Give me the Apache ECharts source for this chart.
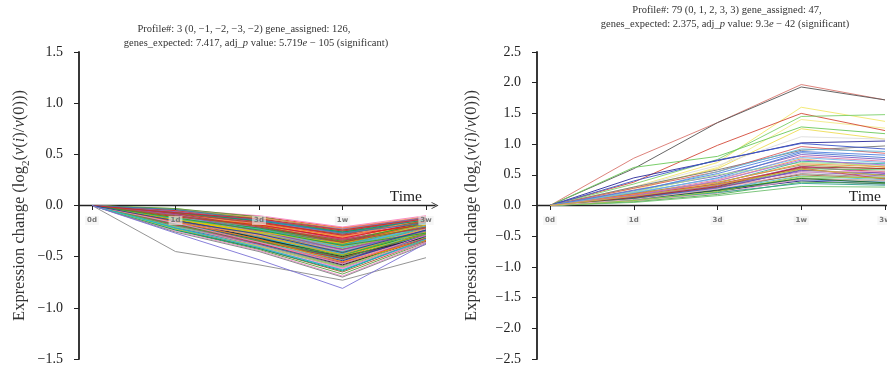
<!DOCTYPE html>
<html>
<head>
<meta charset="utf-8">
<script src="https://cdn.jsdelivr.net/npm/echarts@6/dist/echarts.min.js"></script>
<style>
  html, body { margin: 0; padding: 0; background: #fff; }
  #chart { width: 887px; height: 370px; }
</style>
</head>
<body>
<div id="chart"></div>
<script>
// Time points of the expression series
const timePoints = ['0d', '1d', '3d', '1w', '3w'];

// Model profiles
const leftProfile = [0, -1, -2, -3, -2];
const rightProfile = [0, 1, 2, 3, 3];

// Y axis tick values
const leftYTicks = [-1.5, -1.0, -0.5, 0.0, 0.5, 1.0, 1.5];
const rightYTicks = [-2.5, -2.0, -1.5, -1.0, -0.5, 0.0, 0.5, 1.0, 1.5, 2.0, 2.5];

// Profile 3: genes going down (log2 ratio at 0d, 1d, 3d, 1w, 3w)
const leftGenes = [
  [0,-0.04,-0.11,-0.22,-0.12],[0,-0.09,-0.19,-0.31,-0.17],[0,-0.13,-0.27,-0.44,-0.25],[0,-0.07,-0.16,-0.28,-0.14],
  [0,-0.18,-0.33,-0.52,-0.28],[0,-0.11,-0.22,-0.36,-0.20],[0,-0.05,-0.14,-0.25,-0.11],[0,-0.15,-0.30,-0.47,-0.26],
  [0,-0.21,-0.38,-0.58,-0.31],[0,-0.10,-0.24,-0.40,-0.23],[0,-0.08,-0.18,-0.30,-0.15],[0,-0.16,-0.29,-0.43,-0.22],
  [0,-0.12,-0.26,-0.41,-0.19],[0,-0.06,-0.15,-0.24,-0.13],[0,-0.19,-0.36,-0.55,-0.30],[0,-0.14,-0.28,-0.45,-0.27],
  [0,-0.03,-0.12,-0.23,-0.14],[0,-0.23,-0.41,-0.63,-0.34],[0,-0.10,-0.21,-0.33,-0.18],[0,-0.17,-0.32,-0.49,-0.24],
  [0,-0.08,-0.20,-0.35,-0.21],[0,-0.13,-0.25,-0.38,-0.16],[0,-0.20,-0.35,-0.51,-0.29],[0,-0.05,-0.13,-0.27,-0.15],
  [0,-0.11,-0.27,-0.46,-0.24],[0,-0.15,-0.31,-0.50,-0.32],[0,-0.09,-0.17,-0.29,-0.12],[0,-0.24,-0.43,-0.67,-0.36],
  [0,-0.12,-0.23,-0.37,-0.20],[0,-0.07,-0.19,-0.34,-0.19],[0,-0.18,-0.34,-0.53,-0.27],[0,-0.14,-0.26,-0.39,-0.23],
  [0,-0.06,-0.16,-0.26,-0.11],[0,-0.21,-0.37,-0.57,-0.33],[0,-0.10,-0.22,-0.39,-0.22],[0,-0.16,-0.28,-0.42,-0.25],
  [0,-0.04,-0.10,-0.21,-0.10],[0,-0.13,-0.29,-0.48,-0.28],[0,-0.19,-0.33,-0.50,-0.26],[0,-0.08,-0.21,-0.36,-0.17],
  [0,-0.22,-0.40,-0.61,-0.35],[0,-0.11,-0.24,-0.42,-0.21],[0,-0.15,-0.27,-0.40,-0.18],[0,-0.07,-0.18,-0.32,-0.16],
  [0,-0.17,-0.35,-0.56,-0.31],[0,-0.09,-0.20,-0.33,-0.20],[0,-0.25,-0.44,-0.69,-0.37],[0,-0.12,-0.28,-0.47,-0.29],
  [0,-0.05,-0.15,-0.28,-0.13],[0,-0.18,-0.31,-0.46,-0.23],[0,-0.14,-0.30,-0.49,-0.26],[0,-0.10,-0.19,-0.30,-0.14],
  [0,-0.20,-0.38,-0.59,-0.32],[0,-0.08,-0.22,-0.38,-0.24],[0,-0.16,-0.32,-0.51,-0.30],[0,-0.03,-0.11,-0.24,-0.12],
  [0,-0.13,-0.24,-0.36,-0.19],[0,-0.22,-0.39,-0.60,-0.34],[0,-0.11,-0.25,-0.43,-0.22],[0,-0.06,-0.17,-0.31,-0.18],
  [0,-0.19,-0.34,-0.54,-0.29],[0,-0.15,-0.29,-0.44,-0.21],[0,-0.09,-0.23,-0.41,-0.25],[0,-0.23,-0.42,-0.65,-0.35],
  [0,-0.12,-0.21,-0.32,-0.15],[0,-0.17,-0.33,-0.48,-0.27],[0,-0.07,-0.14,-0.25,-0.14],[0,-0.14,-0.31,-0.52,-0.31],
  [0,-0.20,-0.36,-0.55,-0.28],[0,-0.10,-0.26,-0.45,-0.23],[0,-0.05,-0.12,-0.22,-0.11],[0,-0.18,-0.37,-0.58,-0.33],
  [0,-0.13,-0.27,-0.42,-0.24],[0,-0.08,-0.16,-0.27,-0.13],[0,-0.21,-0.41,-0.62,-0.36],[0,-0.11,-0.20,-0.34,-0.17],
  [0,-0.16,-0.30,-0.47,-0.25],[0,-0.06,-0.18,-0.33,-0.20],[0,-0.24,-0.42,-0.64,-0.32],[0,-0.12,-0.25,-0.40,-0.26],
  [0,-0.09,-0.22,-0.37,-0.19],[0,-0.17,-0.31,-0.45,-0.22],[0,-0.14,-0.33,-0.53,-0.30],[0,-0.04,-0.13,-0.26,-0.16],
  [0,-0.19,-0.35,-0.52,-0.27],[0,-0.10,-0.23,-0.38,-0.21],[0,-0.22,-0.38,-0.57,-0.30],[0,-0.07,-0.20,-0.35,-0.18],
  [0,-0.15,-0.28,-0.43,-0.24],[0,-0.12,-0.29,-0.49,-0.28],[0,-0.18,-0.32,-0.47,-0.20],[0,-0.08,-0.17,-0.28,-0.15],
  [0,-0.20,-0.39,-0.61,-0.33],[0,-0.13,-0.22,-0.35,-0.17],[0,-0.05,-0.16,-0.29,-0.19],[0,-0.16,-0.34,-0.54,-0.29],
  [0,-0.11,-0.26,-0.44,-0.27],[0,-0.21,-0.36,-0.53,-0.25],[0,-0.09,-0.18,-0.31,-0.13],[0,-0.14,-0.32,-0.50,-0.31],
  [0,-0.23,-0.40,-0.60,-0.31],[0,-0.06,-0.14,-0.23,-0.12],[0,-0.17,-0.29,-0.44,-0.23],[0,-0.12,-0.27,-0.46,-0.26],
  [0,-0.10,-0.24,-0.41,-0.20],[0,-0.19,-0.37,-0.56,-0.32],[0,-0.07,-0.15,-0.26,-0.14],[0,-0.15,-0.30,-0.48,-0.22],
  [0,-0.26,-0.45,-0.70,-0.38],[0,-0.13,-0.23,-0.39,-0.18],[0,-0.08,-0.21,-0.34,-0.22],[0,-0.18,-0.35,-0.51,-0.28],
  [0,-0.11,-0.19,-0.32,-0.16],[0,-0.20,-0.34,-0.49,-0.24],[0,-0.04,-0.14,-0.27,-0.17],[0,-0.16,-0.33,-0.55,-0.34],
  [0,-0.09,-0.25,-0.43,-0.25],[0,-0.14,-0.26,-0.37,-0.19],[0,-0.22,-0.41,-0.63,-0.33],[0,-0.10,-0.20,-0.36,-0.21],
  [0,-0.17,-0.36,-0.57,-0.29],[0,-0.12,-0.24,-0.39,-0.27],[0,-0.07,-0.13,-0.24,-0.13],[0,-0.15,-0.28,-0.46,-0.24]
];
// Two genes that fall furthest, drawn in their own colours
const leftOutliers = [
  [0,-0.45,-0.58,-0.73,-0.51],
  [0,-0.27,-0.53,-0.81,-0.37]
];
const leftOutlierColors = ['#8a8a8a', '#7b72d6'];

const leftPalette = [
  '#e41a1c','#4daf4a','#377eb8','#ff7f00','#984ea3','#e6c700','#17becf','#a65628',
  '#f781bf','#2ca02c','#d62728','#1f3f9f','#8da0cb','#66c2a5','#fc8d62','#222222',
  '#a6d854','#9467bd','#e78ac3','#bcbd22','#56b4e9','#cc3366','#009e73','#f0a030',
  '#7f7f7f','#3bb3c3','#b03060','#5a9a3a'
];

// Profile 79: genes going up
const rightGenes = [
  [0,0.77,1.35,1.97,1.72],[0,0.60,1.35,1.93,1.72],[0,0.30,0.70,1.60,1.37],[0,0.25,0.62,1.40,1.26],
  [0,0.38,0.98,1.50,1.22],[0,0.35,0.75,1.45,1.48],[0,0.62,0.80,1.28,1.17],[0,0.28,0.60,1.25,1.08],
  [0,0.30,0.65,1.12,1.08],[0,0.45,0.73,1.02,1.05],[0,0.30,0.58,0.90,0.97],[0,0.28,0.55,0.96,0.85],
  [0,0.40,0.74,1.01,0.92],[0,0.22,0.55,0.92,0.88],[0,0.25,0.48,0.83,0.75],[0,0.20,0.45,0.86,0.78],
  [0,0.18,0.42,0.80,0.72],[0,0.15,0.40,0.76,0.62],[0,0.22,0.50,0.70,0.65],[0,0.12,0.36,0.72,0.68],
  [0,0.17,0.35,0.62,0.55],[0,0.15,0.32,0.64,0.52],[0,0.10,0.30,0.60,0.58],[0,0.20,0.38,0.66,0.60],
  [0,0.13,0.28,0.58,0.50],[0,0.16,0.33,0.55,0.48],[0,0.09,0.25,0.52,0.46],[0,0.14,0.30,0.50,0.44],
  [0,0.11,0.26,0.48,0.42],[0,0.08,0.22,0.45,0.40],[0,0.19,0.34,0.61,0.43],[0,0.12,0.27,0.42,0.38],
  [0,0.10,0.24,0.40,0.35],[0,0.07,0.20,0.43,0.41],[0,0.06,0.18,0.38,0.36],[0,0.09,0.21,0.36,0.33],
  [0,0.05,0.16,0.31,0.30],[0,0.14,0.29,0.57,0.53],[0,0.18,0.37,0.68,0.63],[0,0.21,0.44,0.78,0.70],
  [0,0.13,0.31,0.63,0.60],[0,0.08,0.23,0.47,0.45],[0,0.11,0.25,0.44,0.37],[0,0.16,0.40,0.74,0.66],
  [0,0.24,0.52,0.88,0.82],[0,0.10,0.27,0.54,0.56],[0,0.15,0.34,0.59,0.49]
];
const rightColors = [
  '#d9776f','#555555','#f2e86a','#f3ea88','#d44a3a','#7ccf6a','#6cc95a','#eedd55',
  '#dddddd','#2a2a9a','#777777','#d96060','#3b55c8','#5fb8d8','#7b5cc4','#4a7ad0',
  '#e07aa8','#f0a050','#a6e08a','#40b0a0','#c84848','#c050c0','#5cc05c','#a0a040',
  '#3060c0','#9060c0','#909090','#a06040','#50c0d0','#60c060','#d05050','#4070d0',
  '#202080','#f0a0c0','#50b050','#30a090','#70c070','#8050b0','#f09040','#70b8e8',
  '#a03030','#a0d040','#207020','#b070e0','#5080e0','#f0b0c8','#d0b030'
];

const SERIF = 'Liberation Serif';
const INK = '#222';

const fmtNum = v => (v < 0 ? '\u2212' : '') + Math.abs(v).toFixed(1);
const fmtProfile = p => '(' + p.map(v => (v < 0 ? '\u2212' + Math.abs(v) : String(v))).join(', ') + ')';

const yName = '{t|Expression change (log}{s|2}{t|(}{i|\u03bd}{t|(}{i|i}{t|)/}{i|\u03bd}{t|(0)))}';
const yNameRich = {
  t: { fontFamily: SERIF, fontSize: 16.5, color: '#333' },
  i: { fontFamily: SERIF, fontSize: 16.5, color: '#333', fontStyle: 'italic' },
  s: { fontFamily: SERIF, fontSize: 11, color: '#333', verticalAlign: 'bottom', padding: [0, 0, -4, 0] }
};

const chevron = 'path://M5,0 L10,10 L8.8,10 L5,2.4 L1.2,10 L0,10 Z';

// Panel layout: data area, time line area, and tick strip ending at the zero line
const panels = [
  { dataLeft: 92, dataWidth: 334, lineLeft: 79, lineWidth: 356 },
  { dataLeft: 550, dataWidth: 335, lineLeft: 538, lineWidth: 356 }
];
const TOP = 52, HEIGHT = 307, ZERO_Y = 206;

// Hidden x axis used by the gene lines
function dataX(grid) {
  return { gridIndex: grid, type: 'value', min: 0, max: timePoints.length - 1, show: false };
}
// Time line with its arrow and name, sitting on y = 0
function lineX(grid) {
  return {
    gridIndex: grid, type: 'value', min: 0, max: 1,
    axisLine: {
      show: true, onZero: true, symbol: ['none', chevron], symbolSize: [11, 7],
      lineStyle: { color: INK, width: 1.3 }
    },
    axisTick: { show: false }, axisLabel: { show: false }, splitLine: { show: false },
    name: 'Time', nameLocation: 'end', nameGap: -13,
    nameTextStyle: { fontFamily: SERIF, fontSize: 15.5, color: INK, align: 'right', verticalAlign: 'bottom', padding: [0, 0, 1, 0] }
  };
}
// Time-point ticks and labels along the bottom of the strip, above the gene lines
function tickX(grid) {
  return {
    gridIndex: grid, type: 'value', position: 'bottom', min: 0, max: timePoints.length - 1, interval: 1,
    z: 10,
    axisLine: { show: false, onZero: false },
    axisTick: { show: true, length: 4, lineStyle: { color: INK } },
    axisLabel: {
      formatter: v => timePoints[v], fontFamily: 'DejaVu Sans', fontSize: 7, fontWeight: 'bold',
      color: '#777', margin: 10, backgroundColor: 'rgba(240,240,240,0.6)', padding: [1, 2]
    },
    splitLine: { show: false }
  };
}
function dataY(grid, ticks, nameGap) {
  return {
    gridIndex: grid, type: 'value', min: ticks[0], max: ticks[ticks.length - 1], interval: 0.5,
    offset: 13,
    axisLine: { show: true, onZero: false, lineStyle: { color: INK, width: 1.8 } },
    axisTick: { show: true, length: 5, lineStyle: { color: INK } },
    axisLabel: { formatter: fmtNum, fontFamily: SERIF, fontSize: 14, color: INK, margin: 16 },
    splitLine: { show: false },
    name: yName, nameLocation: 'middle', nameGap: nameGap,
    nameTextStyle: { fontFamily: SERIF, fontSize: 16.5, color: '#333', rich: yNameRich }
  };
}
function hiddenY(grid, min, max) {
  return { gridIndex: grid, type: 'value', min: min, max: max, show: false };
}
function geneSeries(rows, colors, axisIdx) {
  return rows.map((row, k) => ({
    type: 'line', xAxisIndex: axisIdx, yAxisIndex: axisIdx,
    symbol: 'none', silent: true, animation: false,
    lineStyle: { width: 1, color: colors[k % colors.length], opacity: 0.9 },
    data: row.map((v, i) => [i, v])
  }));
}

const leftCount = leftGenes.length + leftOutliers.length;
const rightCount = rightGenes.length;

const titleRich = {
  n: { fontFamily: SERIF, fontSize: 10.5, fill: '#333' },
  i: { fontFamily: SERIF, fontSize: 10.5, fill: '#333', fontStyle: 'italic' }
};
function titleLine(x, y, text) {
  return {
    type: 'text', x: x, y: y, silent: true,
    style: { text: text, fontFamily: SERIF, fontSize: 10.5, fill: '#333', align: 'center', verticalAlign: 'middle', rich: titleRich }
  };
}

const grids = [];
panels.forEach(p => {
  grids.push({ left: p.dataLeft, top: TOP, width: p.dataWidth, height: HEIGHT, outerBoundsMode: 'none' });
  grids.push({ left: p.lineLeft, top: TOP, width: p.lineWidth, height: HEIGHT, outerBoundsMode: 'none' });
  grids.push({ left: p.dataLeft, top: TOP, width: p.dataWidth, height: ZERO_Y - TOP, outerBoundsMode: 'none' });
});

const option = {
  backgroundColor: '#fff',
  animation: false,
  grid: grids,
  xAxis: [dataX(0), lineX(1), tickX(2), dataX(3), lineX(4), tickX(5)],
  yAxis: [
    dataY(0, leftYTicks, 51), hiddenY(1, leftYTicks[0], leftYTicks[leftYTicks.length - 1]), hiddenY(2, 0, 1),
    dataY(3, rightYTicks, 57), hiddenY(4, rightYTicks[0], rightYTicks[rightYTicks.length - 1]), hiddenY(5, 0, 1)
  ],
  series: [].concat(
    geneSeries(leftGenes, leftPalette, 0),
    geneSeries(leftOutliers, leftOutlierColors, 0),
    geneSeries(rightGenes, rightColors, 3)
  ),
  graphic: [
    titleLine(244, 29, '{n|Profile#: 3 ' + fmtProfile(leftProfile) + ' gene_assigned: ' + leftCount + ',}'),
    titleLine(256, 43, '{n|genes_expected: 7.417, adj_}{i|p}{n| value: 5.719}{i|e}{n| \u2212 105 (significant)}'),
    titleLine(727, 10, '{n|Profile#: 79 ' + fmtProfile(rightProfile) + ' gene_assigned: ' + rightCount + ',}'),
    titleLine(725, 24, '{n|genes_expected: 2.375, adj_}{i|p}{n| value: 9.3}{i|e}{n| \u2212 42 (significant)}')
  ]
};

const chart = echarts.init(document.getElementById('chart'), null, { renderer: 'canvas' });
chart.setOption(option);
</script>
</body>
</html>
